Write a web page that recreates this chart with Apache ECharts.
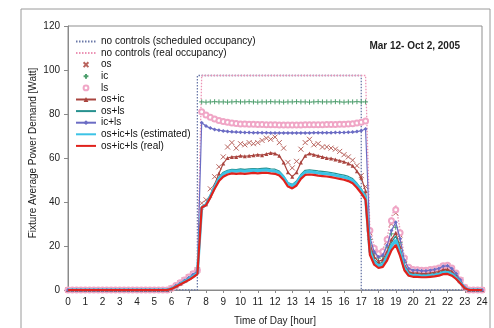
<!DOCTYPE html>
<html>
<head>
<meta charset="utf-8">
<script src="https://cdn.jsdelivr.net/npm/echarts@6/dist/echarts.min.js"></script>
<style>
  html, body { margin: 0; padding: 0; background: #ffffff; }
  #chart { width: 494px; height: 328px; }
</style>
</head>
<body>
<div id="chart"></div>
<script>
// Time of day sampled every 15 minutes, 0:00 .. 24:00
const hours = Array.from({ length: 97 }, (_, i) => i * 0.25);

// Midnight to 5:45 – lights off for every case
const offHours = [0,0,0,0,0,0,0,0,0,0,0,0,0,0,0,0,0,0,0,0,0,0,0,0];

// no controls (scheduled occupancy): on 7:30 – 17:00
const schedHours = [0, 7.5, 7.5, 17, 17, 24];
const schedWatts = [0, 0, 97.5, 97.5, 0, 0];

// Each case: 6:00–7:30, 7:45–17:15, 17:30–24:00
const ncRealDawn = [0.8, 2.1, 3.4, 4.7, 6, 7.6, 9.4];
const ncRealDay = [97.5,97.5,97.5,97.5,97.5, 97.5,97.5,97.5,97.5,97.5, 97.5,97.5,97.5,97.5,97.5, 97.5,97.5,97.5,97.5,97.5,
  97.5,97.5,97.5,97.5,97.5, 97.5,97.5,97.5,97.5,97.5, 97.5,97.5,97.5,97.5,97.5, 97.5,97.5,97.5,97.5];
const ncRealEve = [28, 20, 17.5, 18.5, 24, 33, 38.6, 27.5, 15, 10.6, 9.6, 9.5, 9.3, 9.3, 9.6, 9.9, 10.3, 11.3, 11.6, 10.3, 8, 4.8, 1.3, 0, 0, 0, 0];

const osDawn = [0.8, 2, 3.3, 4.6, 5.9, 7.4, 9.2];
const osDay = [39.5, 41, 46, 51.5, 56, 60.5, 65, 67, 64.5, 66.5, 66, 67, 66.5, 67, 68, 69, 68.5, 69.5, 67, 64.5,
  58, 55.5, 58.5, 64, 67, 68.5, 66, 66.5, 65, 65, 64.5, 64, 63, 61.5, 60.5, 59, 56.5, 52, 47];
const osEve = [26, 18.5, 16, 17, 22, 30, 35, 25, 14, 10, 9, 9, 8.7, 8.8, 9, 9.3, 9.8, 10.8, 11, 9.8, 7.5, 4.5, 1.2, 0, 0, 0, 0];

const icDawn = [0.7, 1.9, 3.2, 4.4, 5.7, 7.2, 8.8];
const icDay = [85.5, 85.4, 85.5, 85.6, 85.5, 85.5, 85.4, 85.5, 85.6, 85.5, 85.5, 85.6, 85.5, 85.4, 85.5, 85.5, 85.6, 85.5, 85.5, 85.4,
  85.5, 85.5, 85.6, 85.5, 85.5, 85.4, 85.5, 85.6, 85.5, 85.5, 85.5, 85.6, 85.5, 85.4, 85.5, 85.5, 85.6, 85.5, 85.5];
const icEve = [23, 16.5, 14.5, 15.2, 19.5, 25.5, 28.5, 21.5, 12.5, 9, 8.4, 8.4, 8.1, 8.1, 8.4, 8.7, 9.1, 10, 10.2, 9, 7, 4.2, 1.1, 0, 0, 0, 0];

const lsDawn = [0.8, 2, 3.3, 4.6, 5.9, 7.4, 9];
const lsDay = [81, 79.5, 78.5, 77.7, 77.1, 76.6, 76.2, 75.9, 75.7, 75.5, 75.4, 75.3, 75.3, 75.2, 75.2, 75.1, 75.1, 75.1, 75, 75,
  75, 75, 75, 75, 75.1, 75.1, 75.1, 75.1, 75.1, 75.2, 75.2, 75.2, 75.3, 75.3, 75.4, 75.6, 75.9, 76.3, 76.8];
const lsEve = [27, 19, 16.5, 17.5, 23, 31.5, 36.5, 26, 14.5, 10.3, 9.3, 9.2, 9, 9, 9.3, 9.6, 10, 11, 11.3, 10, 7.7, 4.6, 1.2, 0, 0, 0, 0];

const osIcDawn = [0.7, 1.8, 3, 4.2, 5.4, 6.8, 8.3];
const osIcDay = [37.5, 39, 43, 48, 53, 57.5, 60, 60.5, 60.5, 61, 60.8, 61, 61.2, 61.5, 61.3, 61.8, 62.3, 62, 61, 58,
  53.5, 51.5, 53.5, 58, 61, 62, 61.5, 61, 60.5, 60, 59.8, 59.3, 58.8, 58.3, 57.5, 56.5, 54, 51, 45];
const osIcEve = [21, 15, 13, 13.8, 17.5, 23, 26, 19.5, 11.5, 8.3, 7.7, 7.7, 7.5, 7.5, 7.7, 8, 8.4, 9.3, 9.4, 8.4, 6.5, 3.9, 1, 0, 0, 0, 0];

const osLsDawn = [0.6, 1.7, 2.8, 4, 5.1, 6.5, 8];
const osLsDay = [37.8, 39.2, 43, 47.5, 51.3, 53.5, 54.4, 54.8, 54.7, 55, 54.8, 55, 55.2, 55, 55.3, 55.4, 55.1, 54.9, 54, 51.8,
  48.8, 48, 49.5, 52.5, 54.4, 54.6, 54.4, 54.1, 53.9, 53.7, 53.4, 53, 52.6, 52.2, 51.6, 50.6, 48.5, 46, 42.8];
const osLsEve = [19, 13.8, 12, 12.6, 16.2, 21.6, 24.6, 18.6, 10.8, 7.8, 7.2, 7.2, 7, 7, 7.2, 7.4, 7.8, 8.6, 8.8, 7.8, 6, 3.6, 1, 0, 0, 0, 0];

const icLsDawn = [0.7, 1.9, 3.1, 4.3, 5.6, 7, 8.6];
const icLsDay = [76, 74.5, 73.6, 73, 72.6, 72.3, 72.1, 71.9, 71.8, 71.7, 71.6, 71.6, 71.5, 71.5, 71.5, 71.5, 71.4, 71.4, 71.4, 71.4,
  71.4, 71.4, 71.4, 71.4, 71.4, 71.4, 71.5, 71.5, 71.5, 71.5, 71.5, 71.6, 71.6, 71.6, 71.7, 71.8, 72, 72.4, 73.2];
const icLsEve = [24, 17.3, 15, 15.8, 20.3, 27, 30.8, 23.3, 13.5, 9.8, 9, 9, 8.7, 8.7, 9, 9.3, 9.8, 10.8, 11, 9.8, 7.5, 4.5, 1.2, 0, 0, 0, 0];

const estDawn = [0.6, 1.6, 2.7, 3.8, 4.9, 6.2, 7.6];
const estDay = [37.5, 38.8, 42.5, 46.8, 50.5, 52.7, 53.7, 54.1, 54, 54.2, 54, 54.2, 54.4, 54.2, 54.4, 54.5, 54.2, 54, 53.2, 51.2,
  48.2, 47.4, 48.7, 51.7, 53.5, 53.7, 53.5, 53.2, 53, 52.8, 52.5, 52.1, 51.7, 51.3, 50.7, 49.7, 47.7, 45.2, 42];
const estEve = [17.5, 12.5, 11, 11.5, 15, 20, 22.7, 17, 10, 7, 6.6, 6.6, 6.4, 6.4, 6.6, 6.8, 7.2, 7.9, 8, 7.2, 5.5, 3.3, 0.9, 0, 0, 0, 0];

const realDawn = [0.5, 1.5, 2.5, 3.5, 4.5, 5.8, 7.2];
const realDay = [37.5, 38.5, 42, 46, 49.5, 51.5, 52.5, 53, 52.8, 53, 52.8, 53, 53.2, 53, 53.2, 53.3, 53, 52.8, 52, 50,
  47, 46.2, 47.5, 50.5, 52.3, 52.5, 52.3, 52, 51.8, 51.6, 51.3, 50.9, 50.5, 50.1, 49.5, 48.5, 46.5, 44, 41];
const realEve = [16, 11.5, 10, 10.5, 13.5, 18, 20.5, 15.5, 9, 6.5, 6, 6, 5.8, 5.8, 6, 6.2, 6.5, 7.2, 7.3, 6.5, 5, 3, 0.8, 0, 0, 0, 0];

const xTicks = [0,1,2,3,4,5,6,7,8,9,10,11,12,13,14,15,16,17,18,19,20,21,22,23,24];
const yTicks = [0, 20, 40, 60, 80, 100, 120];

// join the three parts of a day and pair every value with its time
function dayCurve(dawn, day, eve) {
  const vals = offHours.concat(dawn, day, eve);
  return vals.map((v, i) => [hours[i], v]);
}

const CROSS = 'path://M0,0L10,10M10,0L0,10';
const PLUS = 'path://M5,0L5,10M0,5L10,5';

const chart = echarts.init(document.getElementById('chart'), null, { renderer: 'canvas' });
const font = 'Liberation Sans, Arial, sans-serif';
const plainLine = { itemStyle: { opacity: 0 } };

chart.setOption({
  animation: false,
  backgroundColor: '#ffffff',
  textStyle: { fontFamily: font },
  grid: {
    left: 68, right: 12, top: 26, bottom: 38,
    outerBoundsMode: 'none', containLabel: false,
    show: true, borderColor: '#8f8f8f', borderWidth: 1, backgroundColor: '#ffffff'
  },
  legend: {
    orient: 'vertical',
    left: 70, top: 31,
    itemWidth: 20, itemHeight: 6, itemGap: 0.6,
    textStyle: { fontSize: 10, color: '#111', lineHeight: 11, fontFamily: font },
    data: [
      Object.assign({ name: 'no controls (scheduled occupancy)' }, plainLine),
      Object.assign({ name: 'no controls (real occupancy)' }, plainLine),
      'os', 'ic', 'ls', 'os+ic',
      Object.assign({ name: 'os+ls' }, plainLine),
      'ic+ls',
      Object.assign({ name: 'os+ic+ls (estimated)' }, plainLine),
      Object.assign({ name: 'os+ic+ls (real)' }, plainLine)
    ]
  },
  graphic: [
    { type: 'rect', shape: { x: 21, y: 9, width: 469, height: 340 },
      style: { fill: 'none', stroke: '#9a9a9a', lineWidth: 1 }, silent: true, z: 0 },
    { type: 'text', x: 460, y: 41, style: { text: 'Mar 12- Oct 2, 2005', font: 'bold 10px ' + font,
      fill: '#222', textAlign: 'right' } },
    { type: 'text', x: 33, y: 153, rotation: Math.PI / 2,
      style: { text: 'Fixture Average Power Demand [Watt]', font: '10px ' + font,
        fill: '#222', textAlign: 'center', textVerticalAlign: 'middle' } }
  ],
  xAxis: {
    type: 'value', min: 0, max: 24, interval: 1,
    name: 'Time of Day [hour]', nameLocation: 'middle', nameGap: 26,
    nameTextStyle: { fontSize: 10, color: '#222' },
    axisLine: { onZero: false, lineStyle: { color: '#8a8a8a' } },
    axisTick: { show: true, inside: false, length: 3, lineStyle: { color: '#8a8a8a' } },
    axisLabel: { fontSize: 10, color: '#222', margin: 7,
      formatter: v => xTicks.includes(v) ? String(v) : '' },
    splitLine: { show: false }
  },
  yAxis: {
    type: 'value', min: 0, max: 120, interval: 20,
    axisLine: { show: true, lineStyle: { color: '#8a8a8a' } },
    axisTick: { show: true, inside: false, length: 4, lineStyle: { color: '#8a8a8a' } },
    axisLabel: { fontSize: 10, color: '#222', margin: 8,
      formatter: v => yTicks.includes(v) ? String(v) : '' },
    splitLine: { show: false }
  },
  series: [
    { name: 'no controls (scheduled occupancy)', type: 'line', z: 2,
      data: schedHours.map((h, i) => [h, schedWatts[i]]),
      symbol: 'none', itemStyle: { color: '#6a78a8' },
      lineStyle: { color: '#6a78a8', width: 1.3, type: [1.5, 1.5] } },
    { name: 'no controls (real occupancy)', type: 'line', z: 2,
      data: dayCurve(ncRealDawn, ncRealDay, ncRealEve),
      symbol: 'none', itemStyle: { color: '#ec92b4' },
      lineStyle: { color: '#ec92b4', width: 1.3, type: [1.5, 1.5] } },
    { name: 'os', type: 'line', z: 3,
      data: dayCurve(osDawn, osDay, osEve),
      symbol: CROSS, symbolSize: 5, showAllSymbol: true,
      itemStyle: { color: 'rgba(0,0,0,0)', borderColor: '#b9645e', borderWidth: 1 },
      lineStyle: { width: 0, opacity: 0 } },
    { name: 'ic', type: 'line', z: 3,
      data: dayCurve(icDawn, icDay, icEve),
      symbol: PLUS, symbolSize: 5, showAllSymbol: true,
      itemStyle: { color: 'rgba(0,0,0,0)', borderColor: '#4f9f6e', borderWidth: 1 },
      lineStyle: { width: 0, opacity: 0 } },
    { name: 'ls', type: 'line', z: 3,
      data: dayCurve(lsDawn, lsDay, lsEve),
      symbol: 'emptyCircle', symbolSize: 5, showAllSymbol: true,
      itemStyle: { color: '#f0a6c6', borderWidth: 1 },
      lineStyle: { width: 0, opacity: 0 } },
    { name: 'os+ic', type: 'line', z: 4,
      data: dayCurve(osIcDawn, osIcDay, osIcEve),
      symbol: 'triangle', symbolSize: 4, showAllSymbol: true,
      itemStyle: { color: '#a9443e' },
      lineStyle: { color: '#a9443e', width: 1.2 } },
    { name: 'os+ls', type: 'line', z: 4,
      data: dayCurve(osLsDawn, osLsDay, osLsEve),
      symbol: 'none', itemStyle: { color: '#27918f' },
      lineStyle: { color: '#27918f', width: 1.3 } },
    { name: 'ic+ls', type: 'line', z: 4,
      data: dayCurve(icLsDawn, icLsDay, icLsEve),
      symbol: 'diamond', symbolSize: 4, showAllSymbol: true,
      itemStyle: { color: '#6b6cc4' },
      lineStyle: { color: '#6b6cc4', width: 1.2 } },
    { name: 'os+ic+ls (estimated)', type: 'line', z: 5,
      data: dayCurve(estDawn, estDay, estEve),
      symbol: 'none', itemStyle: { color: '#3cc3e6' },
      lineStyle: { color: '#3cc3e6', width: 3 } },
    { name: 'os+ic+ls (real)', type: 'line', z: 6,
      data: dayCurve(realDawn, realDay, realEve),
      symbol: 'none', itemStyle: { color: '#e0221c' },
      lineStyle: { color: '#e0221c', width: 2.2 } }
  ]
});
</script>
</body>
</html>
